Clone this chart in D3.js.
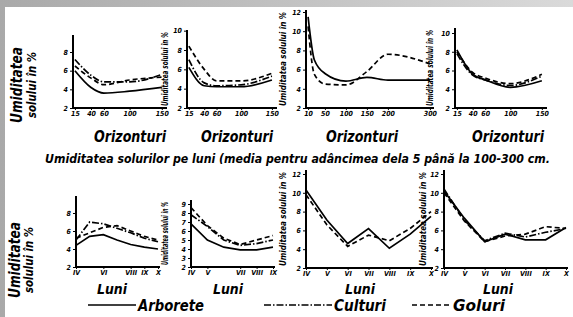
<!DOCTYPE html>
<html>
<head>
<meta charset="utf-8">
<script src="https://cdn.jsdelivr.net/npm/d3@7"></script>
<style>
body { margin: 0; background: #fff; }
svg text { font-family: "Liberation Sans Narrow", "DejaVu Sans Condensed", sans-serif; font-weight: bold; font-style: italic; fill: #000; }
</style>
</head>
<body>
<script>
// adancimi (cm) si luni
var depths = [15, 40, 60, 100, 150];
var depthsDeep = [10, 25, 50, 100, 150, 200, 300];
var months = [4, 5, 6, 7, 8, 9, 10];
var monthsShort = [4, 5, 6, 7, 8, 9];
var monthNames = ["IV", "V", "VI", "VII", "VIII", "IX", "X"];

var seriesNames = ["Arborete", "Culturi", "Goluri"];

// umiditatea pe orizonturi (sus)
var hor1Arborete = [6.0, 4.2, 3.6, 3.8, 4.2];
var hor1Culturi  = [7.2, 5.5, 4.8, 4.8, 5.6];
var hor1Goluri   = [6.5, 5.2, 4.5, 5.0, 5.3];

var hor2Arborete = [6.2, 4.3, 4.2, 4.2, 4.9];
var hor2Culturi  = [7.0, 4.6, 4.3, 4.4, 5.3];
var hor2Goluri   = [8.4, 6.0, 4.8, 4.8, 5.6];

var hor3Arborete = [11.5, 7.0, 5.6, 4.8, 5.2, 4.9, 4.9];
var hor3Goluri   = [10.5, 5.5, 4.5, 4.4, 5.8, 7.6, 6.6];

var hor4Arborete = [8.2, 5.6, 5.0, 4.2, 4.9];
var hor4Culturi  = [7.8, 5.5, 5.0, 4.4, 5.4];
var hor4Goluri   = [8.0, 5.8, 5.2, 4.6, 5.6];

// umiditatea pe luni (jos)
var lun1Arborete = [4.4, 5.4, 5.6, 5.0, 4.5, 4.2, 4.0];
var lun1Culturi  = [5.0, 7.0, 6.8, 6.3, 5.8, 5.2, 4.8];
var lun1Goluri   = [5.2, 5.8, 6.4, 6.6, 6.0, 5.4, 5.0];

var lun2Arborete = [6.8, 5.0, 4.2, 3.9, 3.9, 4.2];
var lun2Culturi  = [7.8, 6.5, 5.0, 4.4, 4.6, 5.0];
var lun2Goluri   = [8.6, 6.6, 5.2, 4.5, 5.0, 5.5];

var lun3Arborete = [10.3, 7.1, 4.6, 6.2, 4.1, 5.6, 7.5];
var lun3Goluri   = [9.8, 6.6, 4.3, 5.5, 4.9, 6.2, 8.0];

var lun4Arborete = [10.2, 7.3, 4.8, 5.6, 5.0, 5.0, 6.3];
var lun4Culturi  = [10.4, 7.1, 4.9, 5.7, 5.3, 5.8, 6.2];
var lun4Goluri   = [10.0, 7.0, 4.8, 5.4, 5.6, 6.4, 6.2];

var W = 573, H = 317;
var dashes = { Arborete: null, Culturi: "7,2,1.5,2", Goluri: "5,3" };

var svg = d3.select("body").append("svg")
    .attr("width", W)
    .attr("height", H);

// rama gri
var grad = svg.append("defs").append("linearGradient").attr("id", "fr");
grad.append("stop").attr("offset", "0%").attr("stop-color", "#a9a9a9");
grad.append("stop").attr("offset", "100%").attr("stop-color", "#dadada");
svg.append("rect").attr("width", W).attr("height", H).attr("fill", "url(#fr)");
svg.append("rect").attr("x", 5).attr("y", 7).attr("width", W - 5).attr("height", H - 7).attr("fill", "#fff");

function roman(d) { return monthNames[d - 4]; }

var panels = [
  { xs: depths, x: [12, 155], xr: [73, 165], y: [2, 8], yr: [108, 52], top: 35, yTicks: [2, 4, 6, 8],
    xTicks: depths, fmt: String, curve: d3.curveMonotoneX,
    data: { Arborete: hor1Arborete, Culturi: hor1Culturi, Goluri: hor1Goluri } },
  { xs: depths, x: [12, 155], xr: [187, 275], y: [2, 8], yr: [108, 50], top: 30, yTicks: [2, 4, 6, 8, 10],
    xTicks: depths, fmt: String, curve: d3.curveMonotoneX, side: 168,
    data: { Arborete: hor2Arborete, Culturi: hor2Culturi, Goluri: hor2Goluri } },
  { xs: depthsDeep, x: [5, 305], xr: [306, 432], y: [2, 12], yr: [108, 12], top: 10, yTicks: [2, 4, 6, 8, 10, 12],
    xTicks: [10, 50, 100, 150, 200, 300], fmt: String, curve: d3.curveMonotoneX, side: 286,
    data: { Arborete: hor3Arborete, Goluri: hor3Goluri } },
  { xs: depths, x: [12, 155], xr: [455, 545], y: [2, 10], yr: [108, 33], top: 28, yTicks: [2, 4, 6, 8, 10],
    xTicks: depths, fmt: String, curve: d3.curveMonotoneX, side: 433,
    data: { Arborete: hor4Arborete, Culturi: hor4Culturi, Goluri: hor4Goluri } },

  { xs: months, x: [4, 10], xr: [76, 158], y: [2, 8], yr: [267, 213], top: 196, yTicks: [2, 4, 6, 8],
    xTicks: [4, 6, 8, 9, 10], fmt: roman, curve: d3.curveLinear,
    data: { Arborete: lun1Arborete, Culturi: lun1Culturi, Goluri: lun1Goluri } },
  { xs: monthsShort, x: [4, 9], xr: [191, 273], y: [2, 9], yr: [267, 204], top: 200, yTicks: [2, 3, 4, 5, 6, 7, 8, 9],
    xTicks: [4, 5, 7, 8, 9], fmt: roman, curve: d3.curveLinear, side: 168,
    data: { Arborete: lun2Arborete, Culturi: lun2Culturi, Goluri: lun2Goluri } },
  { xs: months, x: [4, 10], xr: [306, 431], y: [2, 12], yr: [268, 174], top: 170, yTicks: [2, 4, 6, 8, 10, 12],
    xTicks: months, fmt: roman, curve: d3.curveLinear, side: 286,
    data: { Arborete: lun3Arborete, Goluri: lun3Goluri } },
  { xs: months, x: [4, 10], xr: [444, 566], y: [2, 12], yr: [268, 174], top: 170, yTicks: [2, 4, 6, 8, 10, 12],
    xTicks: months, fmt: roman, curve: d3.curveLinear, side: 426,
    data: { Arborete: lun4Arborete, Culturi: lun4Culturi, Goluri: lun4Goluri } }
];

panels.forEach(function(p) {
  var x = d3.scaleLinear().domain(p.x).range(p.xr);
  var y = d3.scaleLinear().domain(p.y).range(p.yr);
  var base = p.yr[0];
  var g = svg.append("g");

  // axe
  g.append("line").attr("x1", p.xr[0]).attr("x2", p.xr[0]).attr("y1", base + 1).attr("y2", p.top)
    .attr("stroke", "#000").attr("stroke-width", 2);
  g.append("line").attr("x1", p.xr[0]).attr("x2", p.xr[1] + 2).attr("y1", base).attr("y2", base)
    .attr("stroke", "#000").attr("stroke-width", 2);

  var ya = g.append("g").attr("transform", "translate(" + p.xr[0] + ",0)")
    .call(d3.axisLeft(y).tickValues(p.yTicks).tickFormat(d3.format("d")).tickSize(3).tickPadding(2));
  ya.select(".domain").remove();
  ya.selectAll("text").style("font-size", "7px");

  var xa = g.append("g").attr("transform", "translate(0," + base + ")")
    .call(d3.axisBottom(x).tickValues(p.xTicks).tickFormat(p.fmt).tickSize(2).tickPadding(1));
  xa.select(".domain").remove();
  xa.selectAll("text").style("font-size", "7px");

  var line = d3.line()
    .x(function(d, i) { return x(p.xs[i]); })
    .y(function(d) { return y(d); })
    .curve(p.curve);

  seriesNames.forEach(function(s) {
    if (!p.data[s]) return;
    g.append("path")
      .attr("d", line(p.data[s]))
      .attr("fill", "none")
      .attr("stroke", "#000")
      .attr("stroke-width", 1.7)
      .attr("stroke-dasharray", dashes[s]);
  });

  // eticheta verticala mica
  if (p.side) {
    var cy = (base + p.top) / 2;
    g.append("text")
      .attr("transform", "translate(" + p.side + "," + cy + ") rotate(-90)")
      .attr("text-anchor", "middle")
      .attr("textLength", base - p.top - 4)
      .attr("lengthAdjust", "spacingAndGlyphs")
      .style("font-size", "8px")
      .text("Umiditatea solului în %");
  }
});

// etichete mari pe stanga
[[85, 22, 36], [260, 20, 33]].forEach(function(a) {
  svg.append("text")
    .attr("transform", "translate(" + a[1] + "," + a[0] + ") rotate(-90)")
    .attr("text-anchor", "middle")
    .attr("textLength", 76).attr("lengthAdjust", "spacingAndGlyphs")
    .style("font-size", "15px").text("Umiditatea");
  svg.append("text")
    .attr("transform", "translate(" + a[2] + "," + a[0] + ") rotate(-90)")
    .attr("text-anchor", "middle")
    .attr("textLength", 66).attr("lengthAdjust", "spacingAndGlyphs")
    .style("font-size", "13px").text("solului în %");
});

// titluri axe x
[130, 237, 362, 508].forEach(function(cx) {
  svg.append("text").attr("x", cx).attr("y", 142).attr("text-anchor", "middle")
    .attr("textLength", 72).attr("lengthAdjust", "spacingAndGlyphs")
    .style("font-size", "16px").text("Orizonturi");
});
[112, 228, 360, 498].forEach(function(cx) {
  svg.append("text").attr("x", cx).attr("y", 294).attr("text-anchor", "middle")
    .attr("textLength", 30).attr("lengthAdjust", "spacingAndGlyphs")
    .style("font-size", "14px").text("Luni");
});

svg.append("text").attr("x", 45).attr("y", 163)
  .attr("textLength", 505).attr("lengthAdjust", "spacingAndGlyphs")
  .style("font-size", "12px")
  .text("Umiditatea solurilor pe luni (media pentru adâncimea dela 5 până la 100-300 cm.");

// legenda
var legend = [
  { name: "Arborete", x1: 88, x2: 136, tx: 138, tl: 66 },
  { name: "Culturi", x1: 264, x2: 332, tx: 334, tl: 52 },
  { name: "Goluri", x1: 412, x2: 451, tx: 453, tl: 52 }
];
legend.forEach(function(l) {
  svg.append("line").attr("x1", l.x1).attr("x2", l.x2).attr("y1", 305).attr("y2", 305)
    .attr("stroke", "#000").attr("stroke-width", 1.7).attr("stroke-dasharray", dashes[l.name]);
  svg.append("text").attr("x", l.tx).attr("y", 311)
    .attr("textLength", l.tl).attr("lengthAdjust", "spacingAndGlyphs")
    .style("font-size", "15px").text(l.name);
});
</script>
</body>
</html>
